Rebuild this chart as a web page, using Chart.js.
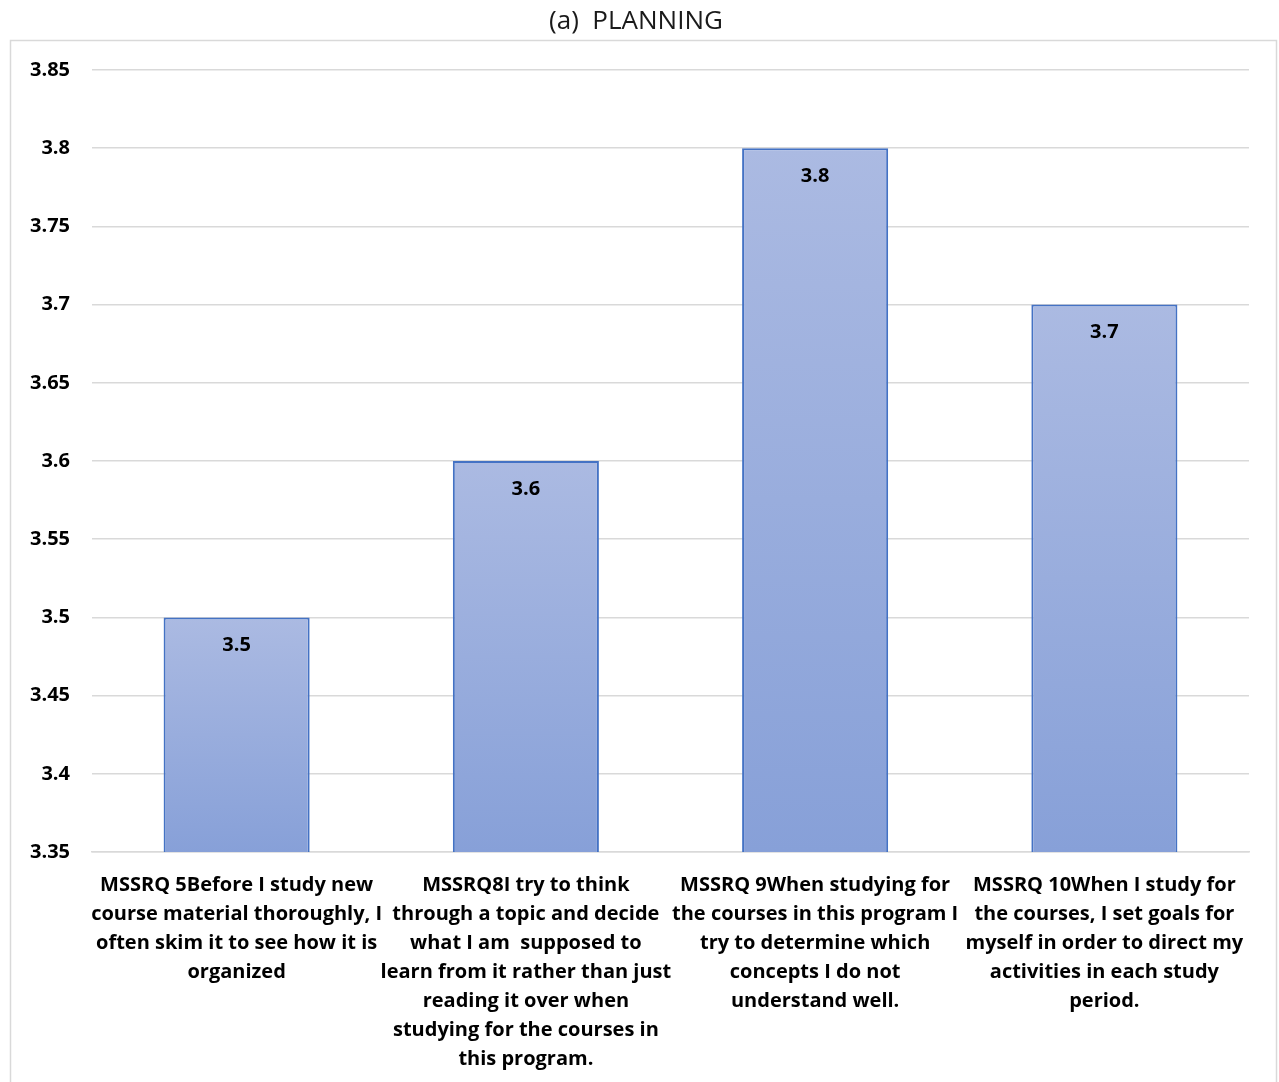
<!DOCTYPE html>
<html>
<head>
<meta charset="utf-8">
<script src="https://cdn.jsdelivr.net/npm/chart.js@4"></script>
<style>
  body { margin: 0; background: #fff; }
  canvas { display: block; }
</style>
</head>
<body>
<canvas id="planningChart" width="1279" height="1082"></canvas>
<script>
// Chart data
const categories = [
  ["MSSRQ 5Before I study new", "course material thoroughly, I", "often skim it to see how it is", "organized"],
  ["MSSRQ8I try to think", "through a topic and decide", "what I am  supposed to", "learn from it rather than just", "reading it over when", "studying for the courses in", "this program."],
  ["MSSRQ 9When studying for", "the courses in this program I", "try to determine which", "concepts I do not", "understand well."],
  ["MSSRQ 10When I study for", "the courses, I set goals for", "myself in order to direct my", "activities in each study", "period."]
]
const meanScores = [3.5, 3.6, 3.8, 3.7]
const yTicks = [3.35, 3.4, 3.45, 3.5, 3.55, 3.6, 3.65, 3.7, 3.75, 3.8, 3.85]
const chartTitle = "(a)  PLANNING"

const FONT = "'Open Sans', 'Noto Sans', sans-serif"

// Outer frame and title, drawn behind the plot
const framePlugin = {
  id: "frame",
  beforeDraw(chart) {
    const ctx = chart.ctx
    ctx.save()
    ctx.fillStyle = "#ffffff"
    ctx.fillRect(0, 0, chart.width, chart.height)
    ctx.strokeStyle = "#d9d9d9"
    ctx.lineWidth = 1.5
    ctx.strokeRect(10.5, 40.5, 1266, 1100)
    ctx.fillStyle = "#1a1a1a"
    ctx.font = "26px " + FONT
    ctx.textAlign = "center"
    ctx.textBaseline = "middle"
    ctx.fillText(chartTitle, 636, 22)
    ctx.restore()
  }
}

// Value labels inside the top of each bar
const valueLabels = {
  id: "valueLabels",
  afterDatasetsDraw(chart) {
    const ctx = chart.ctx
    const meta = chart.getDatasetMeta(0)
    ctx.save()
    ctx.fillStyle = "#000000"
    ctx.font = "bold 20px " + FONT
    ctx.textAlign = "center"
    ctx.textBaseline = "middle"
    meta.data.forEach((bar, i) => {
      ctx.fillText(String(meanScores[i]), bar.x, bar.y + 28)
    })
    ctx.restore()
  }
}

// Vertical gradient per bar, lighter at the top
function barGradient(context) {
  const chart = context.chart
  const yScale = chart.scales.y
  if (!chart.chartArea || !yScale || context.raw === undefined) return "#98acdc"
  const top = yScale.getPixelForValue(context.raw)
  const bottom = chart.chartArea.bottom
  if (!isFinite(top) || top >= bottom) return "#98acdc"
  const g = chart.ctx.createLinearGradient(0, top, 0, bottom)
  g.addColorStop(0, "#abbae2")
  g.addColorStop(1, "#87a0d8")
  return g
}

new Chart(document.getElementById("planningChart"), {
  type: "bar",
  data: {
    labels: categories,
    datasets: [{
      data: meanScores,
      backgroundColor: barGradient,
      borderColor: "#4472c4",
      borderWidth: 2,
      borderSkipped: "bottom",
      categoryPercentage: 1,
      barPercentage: 0.505
    }]
  },
  options: {
    responsive: false,
    animation: false,
    layout: { padding: { left: 10, right: 30, top: 70, bottom: 0 } },
    plugins: {
      legend: { display: false },
      title: { display: false },
      tooltip: { enabled: false }
    },
    scales: {
      x: {
        grid: { display: false, drawTicks: false },
        border: { display: true, color: "#d9d9d9", width: 1.5 },
        ticks: {
          color: "#000000",
          font: { family: FONT, size: 20, weight: "bold", lineHeight: 1.45 },
          padding: 19,
          maxRotation: 0,
          autoSkip: false
        },
        afterFit(scale) { scale.height = 230 }
      },
      y: {
        min: 3.35,
        max: 3.85,
        afterBuildTicks(scale) {
          scale.ticks = yTicks.map(v => ({ value: v }))
        },
        grid: { color: "#d9d9d9", lineWidth: 1.5, drawTicks: false },
        border: { display: false },
        ticks: {
          color: "#000000",
          font: { family: FONT, size: 20, weight: "bold" },
          padding: 22,
          callback: (v) => String(v)
        },
        afterFit(scale) { scale.width = 82 }
      }
    }
  },
  plugins: [framePlugin, valueLabels]
})
</script>
</body>
</html>
